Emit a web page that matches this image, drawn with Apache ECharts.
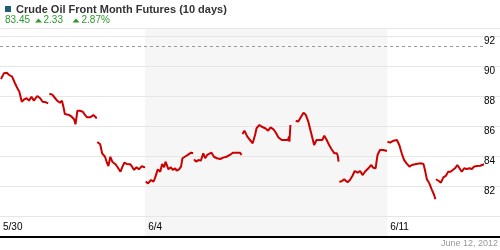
<!DOCTYPE html>
<html><head><meta charset="utf-8">
<script src="https://cdn.jsdelivr.net/npm/echarts@6/dist/echarts.min.js"></script>
<style>html,body{margin:0;padding:0;background:#fff}#c{width:500px;height:250px}</style>
</head><body><div id="c"></div>
<script>
// ---- data ----
const chartTitle = 'Crude Oil Front Month Futures (10 days)';
const lastPrice = 83.45, netChange = 2.33, pctChange = 2.87;
const asOfDate = 'June 12, 2012';
const refLevel = 91.33;
const tickDays = [0, 3, 8];
const tickLabels = ['5/30', '6/4', '6/11'];
const shadedWeek = [3, 8];
const yMin = 80, yMax = 92, yStep = 2;

// intraday: fraction of session, price
const d1T = [0.02,0.08,0.14,0.19,0.25,0.31,0.36,0.40,0.45,0.50,0.55,0.60,0.65,0.70,0.77,0.83,0.88,0.95,0.995];
const d1P = [89.13,89.51,89.55,89.40,89.29,88.85,88.51,88.29,87.62,87.78,87.85,87.69,87.95,87.69,88.00,87.85,87.62,87.58,87.51];
const d2T = [0.02,0.08,0.14,0.18,0.24,0.28,0.31,0.34,0.38,0.43,0.48,0.53,0.56,0.60,0.65,0.71,0.76,0.80,0.86,0.93,0.98,0.995];
const d2P = [88.15,88.09,87.85,87.69,87.55,87.69,87.29,86.80,86.89,86.73,86.62,86.45,86.11,87.02,87.02,86.95,86.73,86.58,86.58,86.73,86.58,86.49];
const d3T = [0.01,0.07,0.11,0.17,0.21,0.24,0.28,0.32,0.38,0.43,0.49,0.53,0.57,0.62,0.69,0.73,0.77,0.82,0.87,0.93,0.98,0.995];
const d3P = [84.93,84.78,84.18,83.95,83.55,83.33,83.95,83.62,83.47,83.25,82.95,83.29,83.55,83.47,83.45,83.29,83.07,83.25,83.11,83.33,83.25,83.27];
const d4T = [0.01,0.06,0.12,0.17,0.20,0.26,0.31,0.35,0.39,0.42,0.48,0.53,0.57,0.62,0.65,0.70,0.74,0.77,0.82,0.88,0.95,0.99];
const d4P = [82.29,82.18,82.40,82.29,82.51,83.11,82.95,83.47,83.25,83.62,83.11,83.25,83.07,83.18,83.02,83.11,83.29,83.85,83.95,84.07,84.22,84.18];
const d5T = [0.01,0.05,0.10,0.15,0.20,0.24,0.28,0.32,0.37,0.42,0.48,0.55,0.61,0.68,0.75,0.81,0.86,0.90,0.96,0.99];
const d5P = [83.78,83.62,83.73,83.69,84.18,83.85,84.07,83.95,84.22,83.95,83.85,83.80,83.89,83.95,84.07,84.22,84.22,84.29,84.22,84.07];
const d6T = [0.01,0.05,0.11,0.15,0.22,0.27,0.30,0.36,0.41,0.48,0.54,0.59,0.65,0.70,0.75,0.82,0.89,0.95,0.97,0.98,1.0];
const d6P = [85.47,85.69,85.29,85.18,84.85,85.40,85.85,86.07,85.95,85.85,85.69,85.91,85.78,85.55,85.25,85.07,85.07,85.07,85.29,84.95,86.07];
const d7T = [0.11,0.16,0.20,0.27,0.32,0.37,0.43,0.49,0.54,0.61,0.66,0.70,0.75,0.80,0.85,0.91,0.96,0.98,0.995];
const d7P = [86.35,86.29,86.40,86.89,86.73,86.29,85.51,84.73,85.07,85.07,85.07,85.35,85.07,84.73,84.45,84.18,84.18,84.00,83.62];
const d8T = [0.01,0.06,0.11,0.18,0.23,0.28,0.33,0.39,0.44,0.49,0.54,0.61,0.67,0.71,0.76,0.80,0.85,0.92,0.995];
const d8P = [82.29,82.31,82.45,82.25,82.40,82.67,83.00,82.89,83.00,82.73,82.95,83.18,83.40,83.22,83.18,84.07,84.40,84.40,84.33];
const d9T = [0.005,0.06,0.13,0.20,0.25,0.30,0.35,0.40,0.46,0.51,0.54,0.60,0.64,0.69,0.75,0.78,0.82,0.87,0.92,0.97,0.995];
const d9P = [84.95,84.89,85.02,85.07,84.73,84.18,83.73,83.51,83.29,83.40,83.29,83.47,83.40,83.51,83.47,83.07,82.45,82.18,81.78,81.40,81.12];
const d10T = [0.005,0.06,0.11,0.16,0.21,0.26,0.31,0.35,0.40,0.45,0.49,0.54,0.59,0.64,0.70,0.75,0.79,0.85,0.92,1.0];
const d10P = [82.45,82.35,82.22,82.58,82.67,82.95,82.95,82.89,83.18,83.40,83.29,82.95,83.18,83.13,83.18,83.13,83.29,83.33,83.35,83.45];

// ---- build ----
const sessions = [[d1T,d1P],[d2T,d2P],[d3T,d3P],[d4T,d4P],[d5T,d5P],[d6T,d6P],[d7T,d7P],[d8T,d8P],[d9T,d9P],[d10T,d10P]];
const nDays = sessions.length;
const lineData = [];
sessions.forEach(([t, p], i) => {
  if (i > 0) lineData.push([i, null]);
  t.forEach((f, k) => lineData.push([i + f, p[k]]));
});
const W = 500, plotW = 484;
const xMax = nDays * W / plotW;
const FONT = 'Liberation Sans, Arial, sans-serif';

const chart = echarts.init(document.getElementById('c'), null, {renderer: 'canvas'});
chart.setOption({
  animation: false,
  backgroundColor: '#fff',
  grid: [
    {left: 0, right: 0, top: 36, height: 180},
    {left: 0, right: 0, top: 28, bottom: 13}
  ],
  xAxis: [
    {gridIndex: 0, type: 'value', min: 0, max: xMax, show: false},
    {gridIndex: 1, type: 'value', min: 0, max: xMax, z: 3,
      axisLine: {show: true, onZero: false, lineStyle: {color: '#000', width: 2}},
      axisTick: {show: false}, splitLine: {show: false},
      axisLabel: {inside: true, margin: 5, customValues: tickDays, align: 'left', padding: [0,0,0,3],
        fontFamily: FONT, fontSize: 10, color: '#000',
        formatter: v => tickLabels[tickDays.indexOf(v)] || ''}}
  ],
  yAxis: [
    {gridIndex: 0, type: 'value', position: 'right', min: yMin, max: yMax, interval: yStep, z: 3,
      axisLine: {show: false}, axisTick: {show: false},
      splitLine: {show: true, lineStyle: {color: '#e6e6e6', width: 1}},
      axisLabel: {inside: true, margin: 5, verticalAlign: 'top', fontFamily: FONT, fontSize: 10, color: '#000',
        formatter: v => v === yMin ? '' : String(v)}},
    {gridIndex: 1, type: 'value', min: 0, max: 1, interval: 1, z: 2,
      axisLine: {show: false}, axisTick: {show: false}, axisLabel: {show: false},
      splitLine: {show: true, lineStyle: {color: '#e6e6e6', width: 1}}}
  ],
  series: [
    {type: 'line', xAxisIndex: 1, yAxisIndex: 1, z: 1, data: [[0, 0.5]], showSymbol: false,
      lineStyle: {opacity: 0}, silent: true,
      markArea: {silent: true, itemStyle: {color: '#f6f6f6'},
        data: [[{xAxis: shadedWeek[0]}, {xAxis: shadedWeek[1]}]]}},
    {type: 'line', xAxisIndex: 0, yAxisIndex: 0, z: 5, data: lineData, showSymbol: false,
      connectNulls: false, clip: true,
      lineStyle: {color: '#cc0000', width: 2},
      markLine: {silent: true, symbol: 'none', label: {show: false},
        lineStyle: {color: '#999', width: 1, type: [3, 3]},
        data: [[{coord: [0, refLevel]}, {coord: [nDays, refLevel]}]]}}
  ],
  graphic: [
    {type: 'rect', shape: {x: 5, y: 6, width: 6, height: 6}, style: {fill: '#1e5e76'}},
    {type: 'text', x: 16, y: 9.5, style: {text: chartTitle, font: 'bold 11px ' + FONT, fill: '#333', verticalAlign: 'middle'}},
    {type: 'text', x: 5, y: 20.5, style: {text: lastPrice.toFixed(2), font: '10px ' + FONT, fill: '#2a9a2a', verticalAlign: 'middle'}},
    {type: 'polygon', shape: {points: [[35, 22.5], [38.5, 18.5], [42, 22.5]]}, style: {fill: '#2a9a2a'}},
    {type: 'text', x: 43.5, y: 20.5, style: {text: netChange.toFixed(2), font: '10px ' + FONT, fill: '#2a9a2a', verticalAlign: 'middle'}},
    {type: 'polygon', shape: {points: [[72.5, 22.5], [76, 18.5], [79.5, 22.5]]}, style: {fill: '#2a9a2a'}},
    {type: 'text', x: 81.5, y: 20.5, style: {text: pctChange.toFixed(2) + '%', font: '10px ' + FONT, fill: '#2a9a2a', verticalAlign: 'middle'}},
    {type: 'text', x: 498, y: 244, style: {text: asOfDate, font: '9px ' + FONT, fill: '#999', align: 'right', verticalAlign: 'middle'}}
  ]
});
</script></body></html>
